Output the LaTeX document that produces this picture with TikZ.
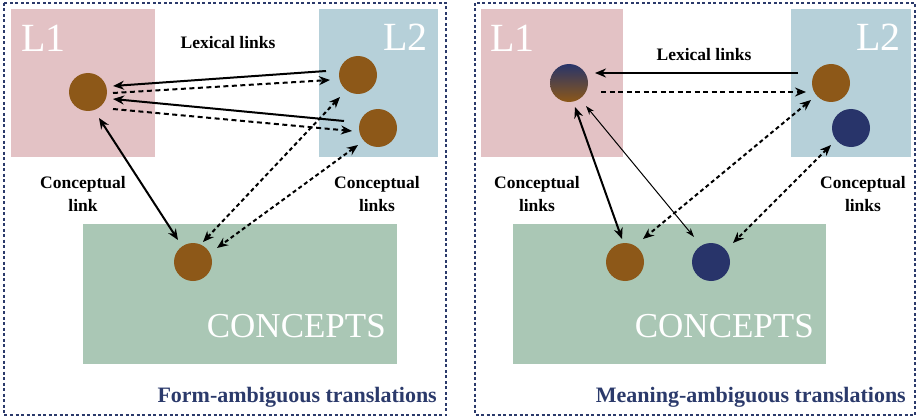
\documentclass[tikz,border=0pt]{standalone}
\usepackage{fontspec}
\setmainfont{Liberation Serif}
\usetikzlibrary{arrows.meta}
\definecolor{lonebg}{HTML}{E3C2C5}
\definecolor{ltwobg}{HTML}{B6D0D9}
\definecolor{conbg}{HTML}{AAC7B5}
\definecolor{brownd}{HTML}{8D5818}
\definecolor{navyd}{HTML}{28346A}
\definecolor{framec}{HTML}{2B3A6B}
\tikzset{
  panelframe/.style={draw=framec, line width=2pt, dash pattern=on 3pt off 2.5pt},
  dot/.style={circle, minimum size=38pt, inner sep=0pt, draw=none},
  browndot/.style={dot, fill=brownd},
  navydot/.style={dot, fill=navyd},
  mixdot/.style={dot, top color=navyd, bottom color=brownd},
  bigtag/.style={text=white, font=\fontsize{40}{40}\selectfont, inner sep=0pt},
  contag/.style={text=white, font=\fontsize{35}{35}\selectfont, inner sep=0pt},
  lbl/.style={font=\fontsize{17.5}{23}\selectfont\bfseries, align=center, inner sep=0pt},
  titletag/.style={text=framec, font=\fontsize{22}{22}\selectfont\bfseries, inner sep=0pt},
  tip/.style={-{Stealth[length=11pt,width=9pt]}},
  dtip/.style={{Stealth[length=11pt,width=9pt]}-{Stealth[length=11pt,width=9pt]}},
  solidlink/.style={line width=2pt},
  dashlink/.style={line width=2pt, dash pattern=on 5pt off 3.5pt},
  dotlink/.style={line width=2pt, dash pattern=on 4pt off 3pt},
  thinlink/.style={line width=1pt},
  thintip/.style={{Stealth[length=9pt,width=6pt]}-{Stealth[length=9pt,width=6pt]}}
}
\begin{document}
\begin{tikzpicture}[x=1pt, y=-1pt]
\useasboundingbox (0,0) rectangle (917,417);

% ---------- Form-ambiguous panel ----------
\fill[lonebg] (11,9) rectangle (155,157);
\fill[ltwobg] (319,9) rectangle (438,157);
\fill[conbg] (83,224) rectangle (397,364);
\draw[panelframe] (4,3) rectangle (446,415);

\node[bigtag, anchor=base west] (aL1) at (21,52) {L1};
\node[bigtag, anchor=base east] (aL2) at (428,51) {L2};
\node[contag, anchor=base east] (aCon) at (386,337) {CONCEPTS};
\node[titletag, anchor=base east] (aTitle) at (437,402) {Form-ambiguous translations};
\node[lbl] (aLex) at (228,43) {Lexical links};
\node[lbl] (aCl) at (83,194) {Conceptual\\link};
\node[lbl] (aCr) at (377,194) {Conceptual\\links};

\node[browndot] (aW) at (88,92) {};
\node[browndot] (aU) at (358,75) {};
\node[browndot] (aV) at (378,128) {};
\node[browndot] (aC) at (193,262) {};

\draw[solidlink, tip] ([shift={(-32,-4)}]aU.center) -- ([shift={(25,-6)}]aW.center);
\draw[dashlink, tip] ([shift={(25,1)}]aW.center) -- ([shift={(-28,5)}]aU.center);
\draw[solidlink, tip] ([shift={(-34,-7)}]aV.center) -- ([shift={(25,7)}]aW.center);
\draw[dashlink, tip] ([shift={(25,17)}]aW.center) -- ([shift={(-26,3)}]aV.center);
\draw[solidlink, dtip] ([shift={(11,26)}]aW.center) -- ([shift={(-15,-22)}]aC.center);
\draw[dotlink, dtip] ([shift={(-18,22)}]aU.center) -- ([shift={(10,-20)}]aC.center);
\draw[dotlink, dtip] ([shift={(-20,17)}]aV.center) -- ([shift={(24,-14)}]aC.center);

% ---------- Meaning-ambiguous panel ----------
\fill[lonebg] (481,9) rectangle (623,157);
\fill[ltwobg] (791,9) rectangle (911,157);
\fill[conbg] (513,224) rectangle (826,364);
\draw[panelframe] (475,3) rectangle (915,415);

\node[bigtag, anchor=base west] (bL1) at (490,52) {L1};
\node[bigtag, anchor=base east] (bL2) at (901,51) {L2};
\node[contag, anchor=base east] (bCon) at (814,337) {CONCEPTS};
\node[titletag, anchor=base east] (bTitle) at (906,402) {Meaning-ambiguous translations};
\node[lbl] (bLex) at (704,55) {Lexical links};
\node[lbl] (bCl) at (537,194) {Conceptual\\links};
\node[lbl] (bCr) at (863,194) {Conceptual\\links};

\node[mixdot] (bW) at (569,83) {};
\node[browndot] (bU) at (831,83) {};
\node[navydot] (bV) at (851,128) {};
\node[browndot] (bC) at (625,262) {};
\node[navydot] (bD) at (711,262) {};

\draw[solidlink, tip] ([shift={(-33,-10)}]bU.center) -- ([shift={(26,-10)}]bW.center);
\draw[dashlink, tip] ([shift={(32,9)}]bW.center) -- ([shift={(-25,9)}]bU.center);
\draw[solidlink, dtip] ([shift={(6,24)}]bW.center) -- ([shift={(-3,-23)}]bC.center);
\draw[thinlink, thintip] ([shift={(17,23)}]bW.center) -- ([shift={(-17,-25)}]bD.center);
\draw[dotlink, dtip] ([shift={(-20,17)}]bU.center) -- ([shift={(18,-23)}]bC.center);
\draw[dotlink, dtip] ([shift={(-20,17)}]bV.center) -- ([shift={(22,-19)}]bD.center);
\end{tikzpicture}
\end{document}
